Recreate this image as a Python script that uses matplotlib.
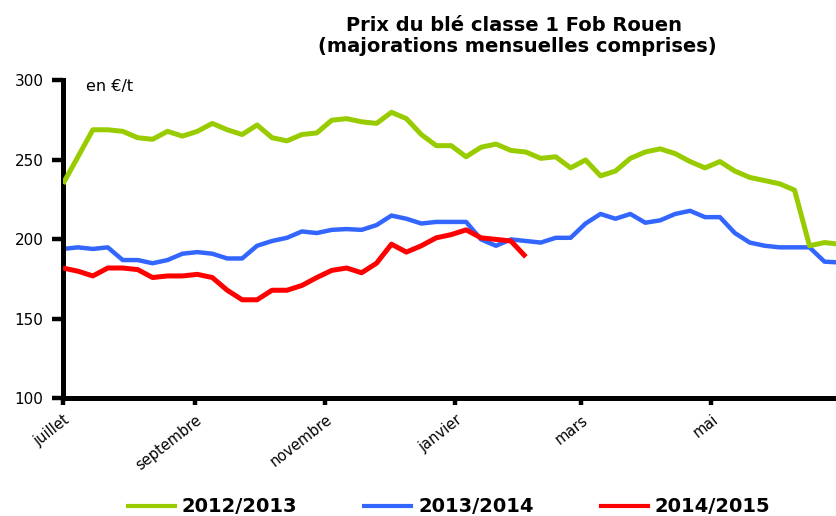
import matplotlib
matplotlib.use("Agg")
import matplotlib.pyplot as plt
from matplotlib.lines import Line2D

# ---- data -------------------------------------------------------------
title_line1 = "Prix du blé classe 1 Fob Rouen"
title_line2 = "(majorations mensuelles comprises)"
unit_label = "en €/t"

series_names = ["2012/2013", "2013/2014", "2014/2015"]
series_colors = ["#99CC00", "#3366FF", "#FF0000"]

# weekly prices (€/t), week 0 = beginning of July
v2012 = [235, 252, 269, 269, 268, 264, 263, 268, 265, 268,
         273, 269, 266, 272, 264, 262, 266, 267, 275, 276,
         274, 273, 280, 276, 266, 259, 259, 252, 258, 260,
         256, 255, 251, 252, 245, 250, 240, 243, 251, 255,
         257, 254, 249, 245, 249, 243, 239, 237, 235, 231,
         196, 198, 197]
v2013 = [194, 195, 194, 195, 187, 187, 185, 187, 191, 192,
         191, 188, 188, 196, 199, 201, 205, 204, 206, 206.5,
         206, 209, 215, 213, 210, 211, 211, 211, 200, 196,
         200, 199, 198, 201, 201, 210, 216, 213, 216, 210.5,
         212, 216, 218, 214, 214, 204, 198, 196, 195, 195,
         195, 186, 185.5]
v2014 = [182, 180, 177, 182, 182, 181, 176, 177, 177, 178,
         176, 168, 162, 162, 168, 168, 171, 176, 180.5, 182,
         179, 185, 197, 192, 196, 201, 203, 206, 201, 200,
         199, 189]

month_labels = ["juillet", "septembre", "novembre", "janvier", "mars", "mai"]
month_start_days = [0, 62, 123, 184, 243, 304]
y_ticks = [100, 150, 200, 250, 300]

# ---- figure -----------------------------------------------------------
W, H = 836, 516
fig = plt.figure(figsize=(W / 100, H / 100), dpi=100)
left_px, top_px, bottom_px = 63, 80.5, 398.3
ax = fig.add_axes([left_px / W, 1 - bottom_px / H, 1 - left_px / W,
                   (bottom_px - top_px) / H])

series = [v2012, v2013, v2014]
widths = [3.6, 3.2, 3.6]
zorders = [3, 2, 4]
for vals, col, lw, z in zip(series, series_colors, widths, zorders):
    ax.plot(range(len(vals)), vals, color=col, lw=lw, zorder=z,
            solid_joinstyle="round", solid_capstyle="butt")

ax.set_xlim(0, (W - left_px) / 14.93)
ax.set_ylim(100, 300)
ax.set_yticks(y_ticks)
ax.set_xticks([d / 7 for d in month_start_days])
ax.set_xticklabels(month_labels, rotation=38, ha="right", va="top",
                   rotation_mode="anchor", fontsize=10.5)
for lab in ax.get_yticklabels():
    lab.set_fontsize(11)

for s in ["top", "right"]:
    ax.spines[s].set_visible(False)
for s in ["left", "bottom"]:
    ax.spines[s].set_linewidth(3.6)
    ax.spines[s].set_color("black")
ax.tick_params(axis="y", direction="out", length=8, width=3.2, pad=6)
ax.tick_params(axis="x", direction="out", length=5, width=3.2, pad=5)

# ---- texts ------------------------------------------------------------
fig.text(514 / W, 1 - 31 / H, title_line1, ha="center", va="baseline",
         fontsize=14, fontweight="bold")
fig.text(517 / W, 1 - 52 / H, title_line2, ha="center", va="baseline",
         fontsize=14, fontweight="bold")
fig.text(86 / W, 1 - 86 / H, unit_label, ha="left", va="center",
         fontsize=11.5)

handles = [Line2D([], [], color=c, lw=3) for c in series_colors]
fig.legend(handles, series_names, loc="center",
           bbox_to_anchor=(449 / W, 1 - 507 / H), ncol=3, frameon=False,
           prop={"weight": "bold", "size": 14}, handlelength=2.42,
           handletextpad=0.36, columnspacing=3.45, borderpad=0,
           borderaxespad=0)

fig.savefig("out.png", dpi=100)
